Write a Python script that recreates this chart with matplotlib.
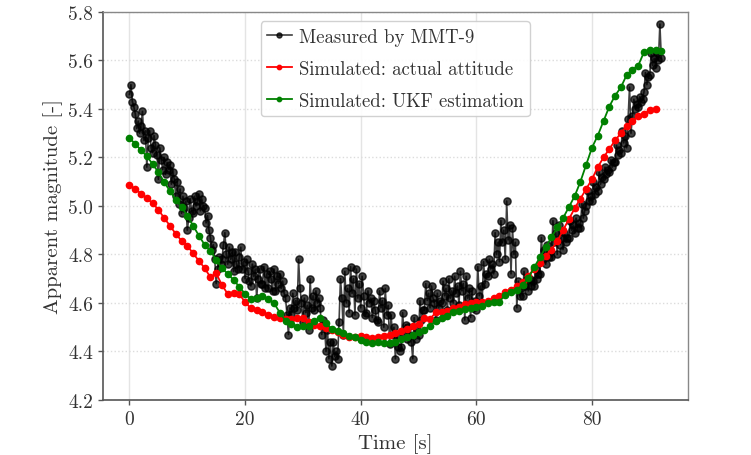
import numpy as np
import matplotlib
matplotlib.use("Agg")
import matplotlib.pyplot as plt

plt.rcParams['font.family'] = 'serif'
plt.rcParams['font.serif'] = ['cmr10', 'DejaVu Serif']
plt.rcParams['mathtext.fontset'] = 'cm'
plt.rcParams['axes.unicode_minus'] = False
plt.rcParams['axes.formatter.use_mathtext'] = True

# Measured by MMT-9 (sampled every 0.25 s, one row per second)
meas_t0 = 0.0
meas_dt = 0.25
measured = [
    5.46, 5.50, 5.43, 5.41,
    5.38, 5.32, 5.35, 5.30,
    5.33, 5.39, 5.27, 5.31,
    5.16, 5.28, 5.31, 5.24,
    5.22, 5.29, 5.25, 5.21,
    5.11, 5.24, 5.19, 5.15,
    5.20, 5.13, 5.18, 5.15,
    5.17, 5.09, 5.14, 5.11,
    5.04, 5.10, 5.01, 5.07,
    4.97, 5.04, 4.99, 5.02,
    4.90, 4.95, 5.03, 4.98,
    4.97, 5.04, 5.00, 5.02,
    5.05, 4.98, 5.03, 5.00,
    4.99, 4.93, 4.96, 4.90,
    4.87, 4.82, 4.84, 4.78,
    4.68, 4.74, 4.79, 4.76,
    4.78, 4.84, 4.89, 4.80,
    4.76, 4.83, 4.78, 4.81,
    4.73, 4.81, 4.76, 4.74,
    4.79, 4.83, 4.74, 4.77,
    4.70, 4.78, 4.73, 4.69,
    4.67, 4.76, 4.71, 4.74,
    4.62, 4.70, 4.74, 4.68,
    4.68, 4.75, 4.66, 4.72,
    4.66, 4.73, 4.70, 4.65,
    4.74, 4.65, 4.71, 4.68,
    4.72, 4.66, 4.69, 4.64,
    4.62, 4.55, 4.47, 4.58,
    4.55, 4.64, 4.58, 4.61,
    4.57, 4.78, 4.66, 4.60,
    4.52, 4.62, 4.56, 4.59,
    4.49, 4.70, 4.58, 4.63,
    4.57, 4.65, 4.60, 4.62,
    4.58, 4.47, 4.53, 4.50,
    4.40, 4.49, 4.37, 4.44,
    4.34, 4.44, 4.38, 4.40,
    4.37, 4.52, 4.70, 4.62,
    4.47, 4.73, 4.60, 4.66,
    4.56, 4.75, 4.64, 4.70,
    4.55, 4.74, 4.62, 4.68,
    4.58, 4.71, 4.63, 4.55,
    4.56, 4.65, 4.60, 4.62,
    4.54, 4.61, 4.57, 4.53,
    4.52, 4.65, 4.58, 4.61,
    4.50, 4.66, 4.55, 4.59,
    4.43, 4.55, 4.47, 4.50,
    4.37, 4.47, 4.42, 4.40,
    4.42, 4.56, 4.47, 4.51,
    4.45, 4.50, 4.47, 4.44,
    4.37, 4.54, 4.45, 4.49,
    4.47, 4.61, 4.53, 4.57,
    4.57, 4.68, 4.61, 4.64,
    4.58, 4.67, 4.62, 4.60,
    4.53, 4.64, 4.58, 4.61,
    4.60, 4.69, 4.63, 4.66,
    4.57, 4.70, 4.62, 4.65,
    4.60, 4.71, 4.64, 4.67,
    4.59, 4.73, 4.65, 4.68,
    4.53, 4.71, 4.62, 4.66,
    4.54, 4.65, 4.58, 4.61,
    4.57, 4.75, 4.63, 4.67,
    4.60, 4.77, 4.68, 4.72,
    4.71, 4.78, 4.74, 4.76,
    4.72, 4.89, 4.80, 4.85,
    4.77, 4.94, 4.85, 4.90,
    4.78, 5.02, 4.86, 4.92,
    4.72, 4.91, 4.80, 4.85,
    4.58, 4.69, 4.63, 4.66,
    4.63, 4.73, 4.67, 4.70,
    4.65, 4.70, 4.67, 4.69,
    4.67, 4.74, 4.70, 4.72,
    4.72, 4.87, 4.78, 4.82,
    4.76, 4.84, 4.79, 4.81,
    4.79, 4.94, 4.85, 4.89,
    4.80, 4.92, 4.84, 4.87,
    4.82, 4.89, 4.85, 4.87,
    4.87, 4.94, 4.90, 4.92,
    4.89, 4.95, 4.91, 4.93,
    4.91, 5.01, 4.95, 4.98,
    5.00, 5.06, 5.02, 5.04,
    5.02, 5.10, 5.05, 5.08,
    5.06, 5.14, 5.09, 5.12,
    5.11, 5.16, 5.13, 5.15,
    5.14, 5.19, 5.16, 5.18,
    5.18, 5.25, 5.21, 5.23,
    5.22, 5.31, 5.26, 5.29,
    5.24, 5.36, 5.49, 5.30,
    5.37, 5.44, 5.40, 5.42,
    5.41, 5.45, 5.43, 5.44,
    5.47, 5.55, 5.50, 5.53,
    5.54, 5.63, 5.58, 5.61,
    5.57, 5.63, 5.60, 5.75,
    5.61,
]

# Simulated: actual attitude (every 1 s)
sim_actual = [
    5.087, 5.070, 5.051, 5.032, 5.011, 4.985, 4.950, 4.919, 4.885, 4.857,
    4.836, 4.805, 4.774, 4.744, 4.706, 4.722, 4.674, 4.637, 4.641, 4.637,
    4.603, 4.578, 4.572, 4.563, 4.552, 4.542, 4.537, 4.534, 4.534, 4.537,
    4.539, 4.520, 4.509, 4.504, 4.496, 4.489, 4.479, 4.468, 4.458, 4.458,
    4.462, 4.458, 4.454, 4.458, 4.462, 4.469, 4.475, 4.486, 4.493, 4.506,
    4.513, 4.537, 4.534, 4.562, 4.564, 4.568, 4.578, 4.582, 4.596, 4.598,
    4.603, 4.606, 4.610, 4.619, 4.630, 4.644, 4.655, 4.669, 4.685, 4.713,
    4.740, 4.765, 4.795, 4.820, 4.855, 4.900, 4.945, 4.990, 5.030, 5.070,
    5.110, 5.160, 5.200, 5.235, 5.270, 5.300, 5.330, 5.350, 5.370, 5.380,
    5.395, 5.400,
]

# Simulated: UKF estimation (every 1 s)
sim_ukf = [
    5.280, 5.256, 5.230, 5.205, 5.173, 5.139, 5.098, 5.062, 5.026, 4.996,
    4.960, 4.919, 4.878, 4.840, 4.816, 4.777, 4.744, 4.720, 4.695, 4.667,
    4.637, 4.617, 4.620, 4.630, 4.615, 4.600, 4.560, 4.527, 4.515, 4.503,
    4.504, 4.504, 4.527, 4.538, 4.517, 4.493, 4.486, 4.475, 4.465, 4.458,
    4.447, 4.440, 4.435, 4.438, 4.435, 4.434, 4.440, 4.452, 4.458, 4.469,
    4.479, 4.490, 4.506, 4.527, 4.537, 4.545, 4.564, 4.568, 4.575, 4.578,
    4.582, 4.586, 4.600, 4.603, 4.606, 4.633, 4.644, 4.655, 4.674, 4.702,
    4.747, 4.788, 4.830, 4.871, 4.912, 4.950, 4.995, 5.040, 5.100, 5.170,
    5.240, 5.290, 5.350, 5.410, 5.455, 5.489, 5.540, 5.562, 5.579, 5.634,
    5.645, 5.645, 5.640,
]

labels = ["Measured by MMT-9", "Simulated: actual attitude", "Simulated: UKF estimation"]

t_meas = meas_t0 + meas_dt * np.arange(len(measured))
t_act = np.arange(len(sim_actual))
t_ukf = np.arange(len(sim_ukf))

fig = plt.figure(figsize=(7.51, 4.56), dpi=100)
ax = fig.add_axes([0.137, 0.1206, 0.779, 0.851])

ax.plot(t_meas, measured, color='black', marker='o', markersize=5.2, linewidth=1.2,
        alpha=0.75, label=labels[0], zorder=3)
ax.plot(t_act, sim_actual, color='red', marker='o', markersize=4.5, linewidth=1.3,
        label=labels[1], zorder=4)
ax.plot(t_ukf, sim_ukf, color='green', marker='o', markersize=4.5, linewidth=1.3,
        label=labels[2], zorder=5)

ax.set_xlim(-4.6, 96.6)
ax.set_ylim(4.2, 5.8)
ax.set_xticks([0, 20, 40, 60, 80])
ax.set_yticks([4.2, 4.4, 4.6, 4.8, 5.0, 5.2, 5.4, 5.6, 5.8])
ax.set_yticklabels(["4.2", "4.4", "4.6", "4.8", "5.0", "5.2", "5.4", "5.6", "5.8"])
ax.set_xticklabels(["0", "20", "40", "60", "80"])

ax.xaxis.grid(True, color='#e4e4e4', linewidth=1.0, linestyle='-', zorder=0)
ax.yaxis.grid(True, color='#dcdcdc', linewidth=1.0, linestyle=':', zorder=0)
ax.set_axisbelow(True)

for side in ['left', 'bottom']:
    ax.spines[side].set_color('#555555')
    ax.spines[side].set_linewidth(1.2)
for side in ['top', 'right']:
    ax.spines[side].set_color('#888888')
    ax.spines[side].set_linewidth(1.0)

ax.tick_params(axis='both', labelsize=14, color='#555555', length=3.5, width=1.0,
               labelcolor='#333333')
ax.set_xlabel("Time [s]", fontsize=15, color='#333333')
ax.set_ylabel("Apparent magnitude [-]", fontsize=15, color='#333333')

leg = ax.legend(loc='upper center', bbox_to_anchor=(0.5, 0.995), fontsize=13.5,
                markerscale=0.7, handlelength=1.3, borderpad=0.35, labelspacing=0.75,
                handletextpad=0.4, borderaxespad=0.4, framealpha=0.9,
                edgecolor='#cccccc', fancybox=True)
for txt in leg.get_texts():
    txt.set_color('#333333')

fig.savefig("out.png", dpi=100)
